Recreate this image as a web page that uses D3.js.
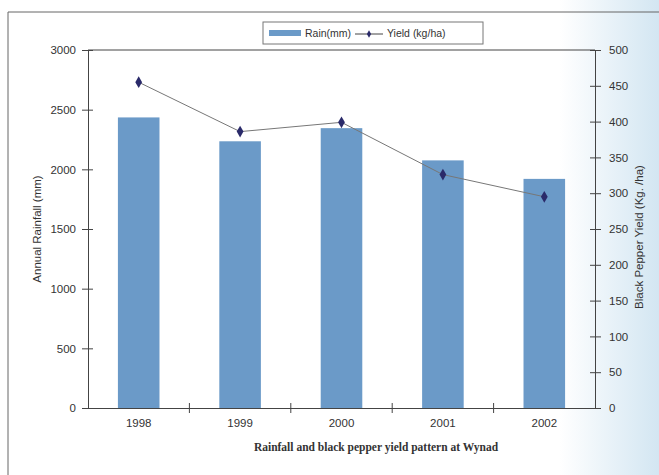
<!DOCTYPE html>
<html>
<head>
<meta charset="utf-8">
<script src="https://cdn.jsdelivr.net/npm/d3@7"></script>
<style>
  body { margin: 0; background: #fff; }
  svg text { font-family: "Liberation Sans", Arial, sans-serif; fill: #333; }
</style>
</head>
<body>
<svg id="chart" width="659" height="475"></svg>
<script>
'use strict';

var years = ['1998', '1999', '2000', '2001', '2002'];
var rainfall = [2435, 2235, 2345, 2075, 1920];
var yieldKg = [455, 386, 399, 326, 295];
var rainTicks = [0, 500, 1000, 1500, 2000, 2500, 3000];
var yieldTicks = [0, 50, 100, 150, 200, 250, 300, 350, 400, 450, 500];

var margin = {top: 50, left: 88, right: 64, bottom: 67};
var width = 659, height = 475;
var innerW = width - margin.left - margin.right;
var innerH = height - margin.top - margin.bottom;

var svg = d3.select('#chart');

// faint scan tint at the page edge
var defs = svg.append('defs');
var grad = defs.append('linearGradient').attr('id', 'tint').attr('x1', 0).attr('x2', 1);
grad.append('stop').attr('offset', '0%').attr('stop-color', '#ffffff');
grad.append('stop').attr('offset', '100%').attr('stop-color', '#d3e6f2');
svg.append('rect').attr('x', 560).attr('y', 0).attr('width', 99).attr('height', height)
  .attr('fill', 'url(#tint)');
svg.append('path')
  .attr('d', 'M8,475 L8,12 L659,12')
  .attr('fill', 'none').attr('stroke', '#666').attr('stroke-width', 1);

var g = svg.append('g').attr('transform', 'translate(' + margin.left + ',' + margin.top + ')');

var x = d3.scaleBand().domain(years).range([0, innerW]).paddingInner(0.59).paddingOuter(0.295);
var yL = d3.scaleLinear().domain([0, 3000]).range([innerH, 0]);
var yR = d3.scaleLinear().domain([0, 500]).range([innerH, 0]);

// top frame
g.append('line').attr('x1', 0).attr('x2', innerW).attr('y1', 0).attr('y2', 0)
  .attr('stroke', '#444');

g.selectAll('rect.bar').data(rainfall).enter().append('rect')
  .attr('class', 'bar')
  .attr('x', function (d, i) { return x(years[i]); })
  .attr('width', x.bandwidth())
  .attr('y', function (d) { return yL(d); })
  .attr('height', function (d) { return innerH - yL(d); })
  .attr('fill', '#6b9ac8');

var line = d3.line()
  .x(function (d, i) { return x(years[i]) + x.bandwidth() / 2; })
  .y(function (d) { return yR(d); });

g.append('path').datum(yieldKg)
  .attr('d', line)
  .attr('fill', 'none').attr('stroke', '#777').attr('stroke-width', 1);

var diamond = d3.symbol().type(d3.symbolDiamond).size(40);
g.selectAll('path.pt').data(yieldKg).enter().append('path')
  .attr('class', 'pt')
  .attr('d', diamond)
  .attr('transform', function (d, i) {
    return 'translate(' + (x(years[i]) + x.bandwidth() / 2) + ',' + yR(d) + ')';
  })
  .attr('fill', '#2a2a6a');

// axes
function styleAxis(sel) {
  sel.selectAll('path').attr('stroke', '#444');
  sel.selectAll('line').attr('stroke', '#444');
  sel.selectAll('text').style('font-size', '11.5px').attr('fill', '#444');
}

var fmt = d3.format('d');

var leftAxis = g.append('g')
  .call(d3.axisLeft(yL).tickValues(rainTicks).tickFormat(fmt)
    .tickSizeInner(6).tickSizeOuter(0).tickPadding(6));
leftAxis.selectAll('.tick line').attr('x1', 5);
styleAxis(leftAxis);

var rightAxis = g.append('g').attr('transform', 'translate(' + innerW + ',0)')
  .call(d3.axisRight(yR).tickValues(yieldTicks).tickFormat(fmt)
    .tickSizeInner(6).tickSizeOuter(0).tickPadding(8));
rightAxis.selectAll('.tick line').attr('x1', -5);
styleAxis(rightAxis);

var bottomAxis = g.append('g').attr('transform', 'translate(0,' + innerH + ')')
  .call(d3.axisBottom(x).tickSize(0).tickPadding(11));
styleAxis(bottomAxis);

// category separators
var sep = years.slice(1);
bottomAxis.selectAll('line.sep').data(sep).enter().append('line')
  .attr('class', 'sep')
  .attr('x1', function (d) { return x(d) - x.step() * x.paddingInner() / 2; })
  .attr('x2', function (d) { return x(d) - x.step() * x.paddingInner() / 2; })
  .attr('y1', -5).attr('y2', 5)
  .attr('stroke', '#444');

// axis titles
svg.append('text')
  .attr('transform', 'translate(41,' + (margin.top + innerH / 2) + ') rotate(-90)')
  .attr('text-anchor', 'middle').style('font-size', '11.5px').attr('fill', '#444')
  .text('Annual Rainfall (mm)');
svg.append('text')
  .attr('transform', 'translate(643,' + (margin.top + innerH / 2 + 8) + ') rotate(-90)')
  .attr('text-anchor', 'middle').style('font-size', '11.5px').attr('fill', '#444')
  .text('Black Pepper Yield (Kg. /ha)');

svg.append('text')
  .attr('x', 376).attr('y', 451)
  .attr('text-anchor', 'middle')
  .style('font-family', '"Liberation Serif", "Times New Roman", serif')
  .style('font-weight', 'bold').style('font-size', '11.5px').attr('fill', '#333')
  .text('Rainfall and black pepper yield pattern at Wynad');

// legend
var lg = svg.append('g').attr('transform', 'translate(263,22)');
lg.append('rect').attr('width', 220).attr('height', 22)
  .attr('fill', '#fff').attr('stroke', '#777');
lg.append('rect').attr('x', 6).attr('y', 8).attr('width', 32).attr('height', 6).attr('fill', '#6b9ac8');
lg.append('text').attr('x', 42).attr('y', 15).style('font-size', '10.5px').attr('fill', '#444').text('Rain(mm)');
lg.append('line').attr('x1', 92).attr('x2', 120).attr('y1', 12).attr('y2', 12).attr('stroke', '#444');
lg.append('path').attr('d', d3.symbol().type(d3.symbolDiamond).size(16))
  .attr('transform', 'translate(106,12)').attr('fill', '#2a2a6a');
lg.append('text').attr('x', 124).attr('y', 15).style('font-size', '10.5px').attr('fill', '#444').text('Yield (kg/ha)');
</script>
</body>
</html>
